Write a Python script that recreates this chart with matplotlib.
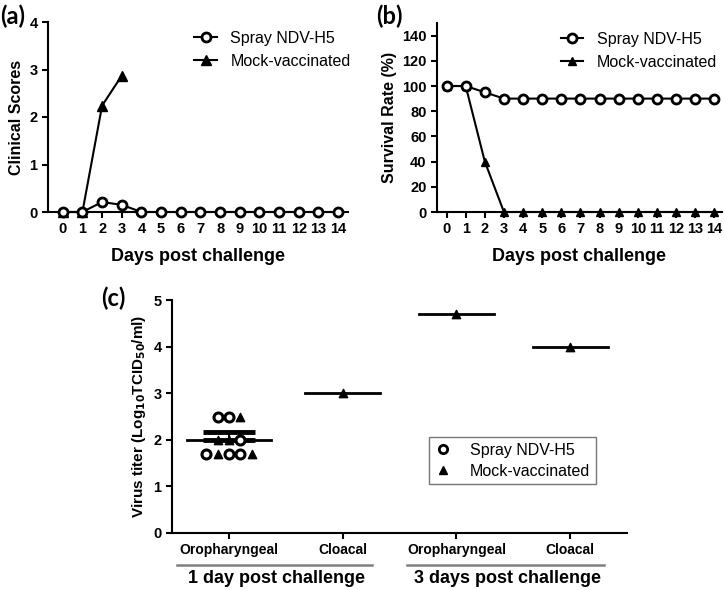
import numpy as np
import matplotlib.pyplot as plt
from matplotlib.lines import Line2D
import matplotlib.transforms as mtransforms

plt.rcParams['font.family'] = ['Liberation Sans', 'DejaVu Sans']

# ---- data ----
days = list(range(15))
clin_spray = [0, 0, 0.21, 0.15, 0, 0, 0, 0, 0, 0, 0, 0, 0, 0, 0]
clin_mock_days = [0, 1, 2, 3]
clin_mock = [0, 0, 2.24, 2.87]

surv_spray = [100, 100, 95, 90, 90, 90, 90, 90, 90, 90, 90, 90, 90, 90, 90]
surv_mock = [100, 100, 40, 0, 0, 0, 0, 0, 0, 0, 0, 0, 0, 0, 0]

groups = ['Oropharyngeal', 'Cloacal', 'Oropharyngeal', 'Cloacal']
group_titles = ['1 day post challenge', '3 days post challenge']
# 1 day oropharyngeal individual titers
oro1_spray = [2.5, 2.5, 2.0, 1.7, 1.7, 1.7]
oro1_spray_jit = [-0.1, 0.0, 0.1, -0.2, 0.0, 0.1]
oro1_mock = [2.5, 2.0, 2.0, 1.7, 1.7]
oro1_mock_jit = [0.1, -0.1, 0.0, -0.1, 0.2]
# single mock values in other groups
other_mock = [3.0, 4.7, 4.0]
group_mean = [2.0, 3.0, 4.7, 4.0]
oro1_sem = 0.17

LW = 1.5
BOLD = 'bold'

fig = plt.figure(figsize=(7.25, 5.9), dpi=100)


def style_axes(ax):
    for s in ['top', 'right']:
        ax.spines[s].set_visible(False)
    for s in ['left', 'bottom']:
        ax.spines[s].set_linewidth(LW)
    ax.tick_params(width=LW, length=4, labelsize=10.5)
    for lab in ax.get_xticklabels() + ax.get_yticklabels():
        lab.set_fontweight(BOLD)


# ---- (a) clinical scores ----
axa = fig.add_axes([48 / 725, 1 - 212 / 590, 300 / 725, 190 / 590])
axa.plot(days, clin_spray, '-o', color='black', lw=LW, ms=6.5, mew=2,
         mfc='white', mec='black', label='Spray NDV-H5', clip_on=False, zorder=3)
axa.plot(clin_mock_days, clin_mock, '-^', color='black', lw=LW, ms=6.5,
         label='Mock-vaccinated', clip_on=False, zorder=2)
axa.set_xlim(-0.75, 14.5)
axa.set_ylim(0, 4)
axa.set_xticks(days)
axa.set_yticks([0, 1, 2, 3, 4])
axa.set_ylabel('Clinical Scores', fontsize=11.5, fontweight=BOLD)
axa.set_xlabel('Days post challenge', fontsize=13, fontweight=BOLD, labelpad=8)
style_axes(axa)
axa.legend(loc='upper left', bbox_to_anchor=(0.44, 1.03), frameon=False,
           fontsize=11.5, handlelength=1.4, handletextpad=0.85, labelspacing=0.5)

# ---- (b) survival ----
axb = fig.add_axes([437 / 725, 1 - 212 / 590, 285 / 725, 189 / 590])
axb.plot(days, surv_spray, '-o', color='black', lw=LW, ms=6.5, mew=2,
         mfc='white', mec='black', label='Spray NDV-H5', clip_on=False, zorder=3)
axb.plot(days, surv_mock, '-^', color='black', lw=LW, ms=5.5,
         label='Mock-vaccinated', clip_on=False, zorder=2)
axb.set_xlim(-0.5, 14.4)
axb.set_ylim(0, 150)
axb.set_xticks(days)
axb.set_yticks(range(0, 141, 20))
axb.set_ylabel('Survival Rate (%)', fontsize=11.5, fontweight=BOLD)
axb.set_xlabel('Days post challenge', fontsize=13, fontweight=BOLD, labelpad=8)
style_axes(axb)
axb.legend(loc='upper left', bbox_to_anchor=(0.385, 1.03), frameon=False,
           fontsize=11.5, handlelength=1.4, handletextpad=0.85, labelspacing=0.5)

# ---- (c) virus titer ----
axc = fig.add_axes([172 / 725, 1 - 533 / 590, 455 / 725, 233 / 590])
xpos = np.arange(len(groups))
half = [0.37, 0.33, 0.33, 0.33]
for x, m, h in zip(xpos, group_mean, half):
    axc.plot([x - h, x + h], [m, m], color='black', lw=2, zorder=2)
axc.errorbar([xpos[0]], [group_mean[0]], yerr=[[0], [oro1_sem]], fmt='none',
             ecolor='black', elinewidth=1.5, capsize=19, capthick=3.5, zorder=2)
axc.scatter(xpos[0] + np.array(oro1_spray_jit), oro1_spray, marker='o', s=42,
            facecolors='white', edgecolors='black', linewidths=2.2, zorder=3)
axc.scatter(xpos[0] + np.array(oro1_mock_jit), oro1_mock, marker='^', s=36,
            color='black', zorder=3)
axc.scatter(xpos[1:], other_mock, marker='^', s=36, color='black', zorder=3)
axc.set_xlim(-0.5, 3.5)
axc.set_ylim(0, 5)
axc.set_yticks([0, 1, 2, 3, 4, 5])
axc.set_xticks(xpos)
axc.set_xticklabels(groups)
axc.set_ylabel('Virus titer (Log$_{\\mathbf{10}}$TCID$_{\\mathbf{50}}$/ml)',
               fontsize=11, fontweight=BOLD)
style_axes(axc)
axc.tick_params(axis='x', labelsize=10)

trans = mtransforms.blended_transform_factory(axc.transData, axc.transAxes)
spans = [(-0.46, 1.26), (1.57, 3.3)]
centers = [0.42, 2.45]
for (x0, x1), cx, title in zip(spans, centers, group_titles):
    axc.add_line(Line2D([x0, x1], [-0.137, -0.137], transform=trans,
                        color='#808080', lw=1.8, clip_on=False))
    axc.text(cx, -0.195, title, transform=trans, ha='center', va='center',
             fontsize=13, fontweight=BOLD)

leg_handles = [
    Line2D([], [], ls='none', marker='o', ms=6, mew=2, mfc='white', mec='black'),
    Line2D([], [], ls='none', marker='^', ms=6, color='black'),
]
leg = axc.legend(leg_handles, ['Spray NDV-H5', 'Mock-vaccinated'],
                 loc='upper left', bbox_to_anchor=(0.565, 0.41), fontsize=11.5,
                 frameon=True, fancybox=False, edgecolor='#555555',
                 handlelength=1.0, handletextpad=1.2, labelspacing=0.35,
                 borderpad=0.35, borderaxespad=0)
leg.get_frame().set_linewidth(1.0)

# ---- panel letters ----
fig.text(0 / 725, 1 - 16 / 590, '(a)', fontsize=17, fontweight=BOLD,
         family=['Lato', 'DejaVu Sans'], va='center', ha='left')
fig.text(376 / 725, 1 - 16 / 590, '(b)', fontsize=17, fontweight=BOLD,
         family=['Lato', 'DejaVu Sans'], va='center', ha='left')
fig.text(101 / 725, 1 - 298 / 590, '(c)', fontsize=17, fontweight=BOLD,
         family=['Lato', 'DejaVu Sans'], va='center', ha='left')

fig.savefig('out.png', dpi=100)
